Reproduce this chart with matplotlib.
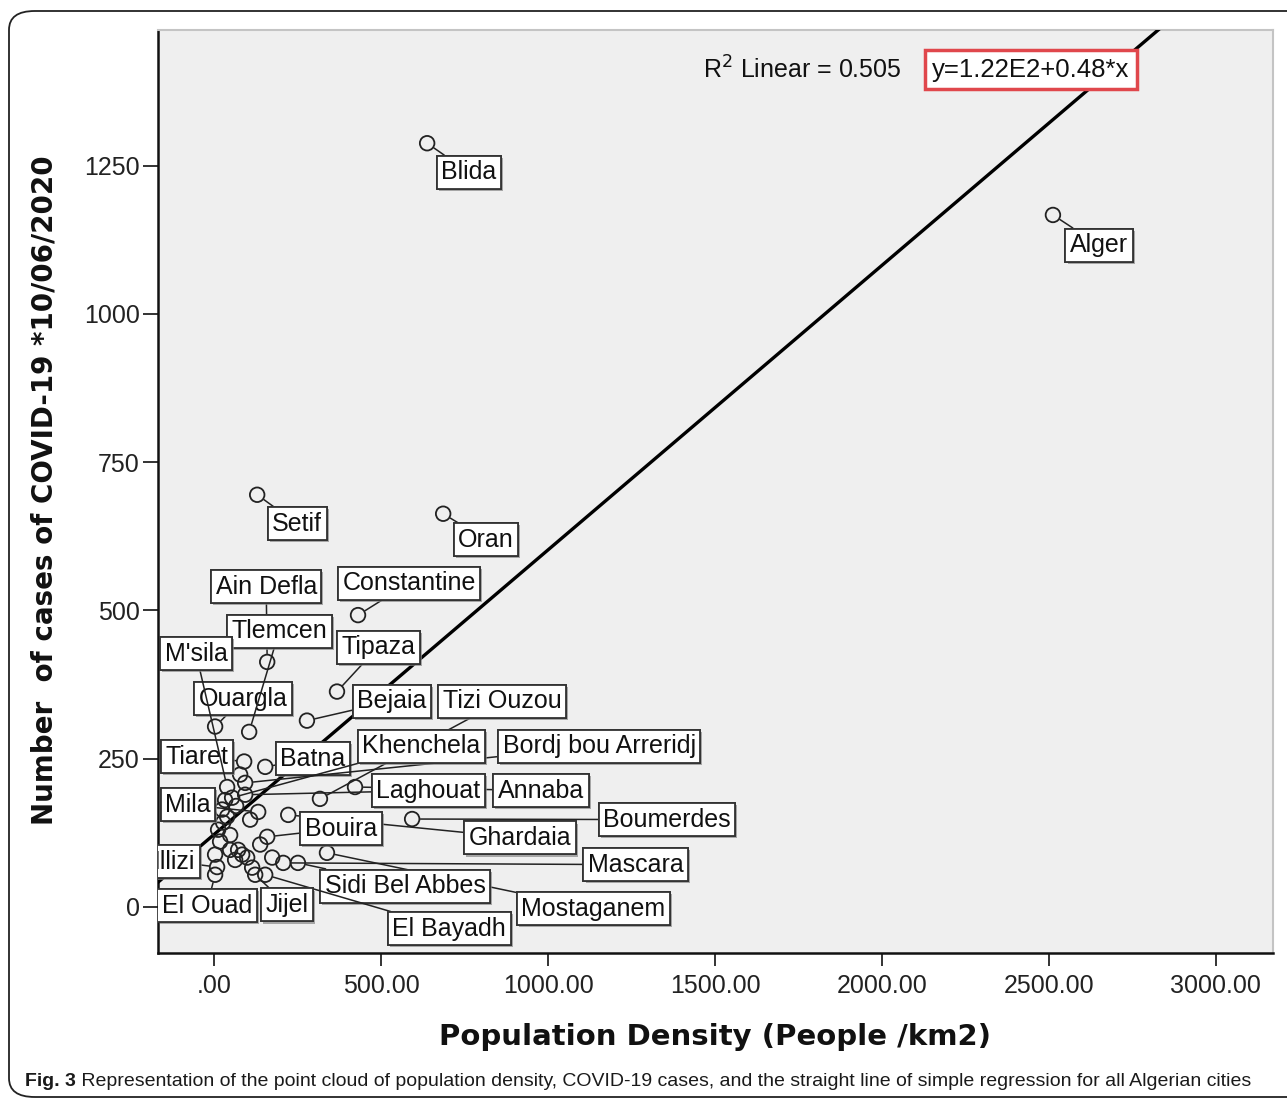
import matplotlib
matplotlib.use('Agg')
import matplotlib.pyplot as plt
import numpy as np
from matplotlib import patheffects
from matplotlib.patches import FancyBboxPatch

# ---------------- data ----------------
names = ['Blida', 'Alger', 'Setif', 'Oran', 'Constantine', 'Ain Defla', 'Tipaza',
         'Bejaia', 'Ouargla', 'Tlemcen', 'Tiaret', 'Batna', 'Bordj bou Arreridj',
         "M'sila", 'Tizi Ouzou', 'Annaba', 'Khenchela', 'Laghouat', 'Mila',
         'Boumerdes', 'Ghardaia', 'Bouira', 'Mostaganem', 'Mascara', 'Sidi Bel Abbes',
         'El Bayadh', 'Jijel', 'Illizi', 'El Ouad',
         '', '', '', '', '', '', '', '', '', '', '', '', '', '', '', '', '', '', '']
density = [638, 2512, 129, 686, 431, 159, 368,
           278, 3, 105, 90, 153, 93,
           39, 317, 422, 54, 93, 132,
           593, 222, 159, 338, 207, 251,
           153, 123, 9, 3,
           24, 39, 27, 12, 18, 48, 84, 99, 63, 114, 72, 33, 66, 48, 138, 3, 78, 108, 174]
cases = [1288, 1167, 695, 663, 492, 413, 363,
         314, 304, 295, 245, 236, 209,
         202, 182, 202, 184, 189, 160,
         148, 155, 118, 91, 74, 74,
         54, 54, 67, 54,
         164, 152, 142, 130, 110, 96, 88, 83, 79, 66, 96, 180, 170, 121, 105, 88, 223, 147, 83]

intercept = 122.0
slope = 0.48
r_squared = 0.505

x_ticks = [0, 500, 1000, 1500, 2000, 2500, 3000]
x_tick_labels = ['.00', '500.00', '1000.00', '1500.00', '2000.00', '2500.00', '3000.00']
y_ticks = [0, 250, 500, 750, 1000, 1250]
y_tick_labels = ['0', '250', '500', '750', '1000', '1250']

x_title = 'Population Density (People /km2)'
y_title = 'Number  of cases of COVID-19 *10/06/2020'
caption_bold = 'Fig. 3'
caption_rest = (' Representation of the point cloud of population density, COVID-19 cases, '
                'and the straight line of simple regression for all Algerian cities')

# ---------------- layout (label box centres, data coords) ----------------
label_xy = {
    'Blida': (763, 1239), 'Alger': (2650, 1116), 'Setif': (249, 646), 'Oran': (814, 619),
    'Ain Defla': (156, 540), 'Constantine': (584, 546), 'Tlemcen': (195, 465),
    "M'sila": (-54, 427), 'Tipaza': (491, 438), 'Ouargla': (87, 351), 'Bejaia': (533, 347),
    'Tizi Ouzou': (862, 347), 'Tiaret': (-51, 253), 'Batna': (296, 250),
    'Khenchela': (620, 271), 'Bordj bou Arreridj': (1153, 271), 'Mila': (-78, 172),
    'Laghouat': (641, 196), 'Annaba': (979, 196), 'Boumerdes': (1356, 147),
    'Bouira': (380, 132), 'Ghardaia': (916, 116), 'Illizi': (-118, 76),
    'Mascara': (1263, 71), 'Sidi Bel Abbes': (572, 35), 'Mostaganem': (1135, -3),
    'El Ouad': (-21, 2), 'Jijel': (219, 3), 'El Bayadh': (704, -37),
}

FONT = 'Liberation Sans'
fig = plt.figure(figsize=(12.87, 11.0), dpi=100)
fig.patch.set_facecolor('white')

# outer rounded frame
frame = FancyBboxPatch((9 / 1287, 3 / 1100), 1.2, 1 - 14 / 1100,
                       boxstyle='round,pad=0,rounding_size=0.02',
                       mutation_aspect=1100 / 1287,
                       transform=fig.transFigure, fc='none', ec='#222222', lw=1.3,
                       clip_on=False)
fig.patches.append(frame)

ax = fig.add_axes([158 / 1287, 1 - 953 / 1100, (1273 - 158) / 1287, (953 - 30) / 1100])
ax.set_facecolor('#efefef')
ax.set_xlim(-168, 3171)
ax.set_ylim(-78, 1479)

for s in ['top', 'right']:
    ax.spines[s].set_color('#c4c4c4')
    ax.spines[s].set_linewidth(1.5)
for s in ['left', 'bottom']:
    ax.spines[s].set_color('#111111')
    ax.spines[s].set_linewidth(1.8)

ax.set_xticks(x_ticks)
ax.set_xticklabels(x_tick_labels)
ax.set_yticks(y_ticks)
ax.set_yticklabels(y_tick_labels)
ax.tick_params(axis='both', direction='out', length=11, width=1.4, color='#333333',
               labelsize=18, labelcolor='#222222', pad=2)
ax.tick_params(axis='x', length=9, pad=6)
for t in ax.get_xticklabels() + ax.get_yticklabels():
    t.set_fontfamily(FONT)

# regression line
xl = np.array([-168, 3171])
ax.plot(xl, intercept + slope * xl, color='black', lw=2.4, zorder=3)

# points
ax.scatter(density, cases, s=110, facecolors='none', edgecolors='#222222',
           linewidths=1.3, zorder=4)

# labels with leader lines
shadow = [patheffects.withSimplePatchShadow(offset=(1.5, -1.5), shadow_rgbFace='#888888', alpha=0.7),
          patheffects.Normal()]
for n, x, y in zip(names, density, cases):
    if not n:
        continue
    lx, ly = label_xy[n]
    txt = ax.annotate(n, xy=(x, y), xytext=(lx, ly), textcoords='data',
                      ha='center', va='center', fontsize=18, family=FONT, color='#111111',
                      bbox=dict(boxstyle='square,pad=0.18', fc='white', ec='#333333', lw=1.3),
                      arrowprops=dict(arrowstyle='-', color='#222222', lw=1.1,
                                      shrinkA=0, shrinkB=6),
                      zorder=5, annotation_clip=False)
    txt.set_clip_on(True)
    txt.set_clip_box(ax.bbox)
    bp = txt.get_bbox_patch()
    bp.set_clip_on(True)
    bp.set_clip_box(ax.bbox)
    bp.set_path_effects(shadow)

# R^2 and equation
ax.text(0.489, 0.957, r'R$^{2}$ Linear = ' + f'{r_squared:.3f}',
        transform=ax.transAxes, ha='left', va='center', fontsize=18, family=FONT,
        color='#111111')
ax.text(0.6945, 0.957, f'y={intercept / 100:.2f}E2+{slope:.2f}*x', transform=ax.transAxes,
        ha='left', va='center', fontsize=18.5, family=FONT, color='#111111',
        bbox=dict(boxstyle='square,pad=0.3', fc='white', ec='#e0474c', lw=2.5), zorder=6)

# axis titles
fig.text(715 / 1287, 1 - 1037 / 1100, x_title, ha='center', va='center',
         fontsize=21, fontweight='bold', family='DejaVu Sans', color='#111111')
fig.text(45 / 1287, 1 - 490 / 1100, y_title, ha='center', va='center', rotation=90,
         fontsize=20, fontweight='bold', family='DejaVu Sans', color='#111111')

# caption
cap1 = fig.text(25 / 1287, 1 - 1082 / 1100, caption_bold, ha='left', va='center',
                fontsize=14, fontweight='bold', family=FONT, color='#1a1a1a')
fig.canvas.draw()
bb = cap1.get_window_extent()
fig.text(bb.x1 / fig.bbox.width, 1 - 1082 / 1100, caption_rest, ha='left', va='center',
         fontsize=14, family=FONT, color='#1a1a1a')

fig.savefig('out.png', dpi=100, facecolor='white')
